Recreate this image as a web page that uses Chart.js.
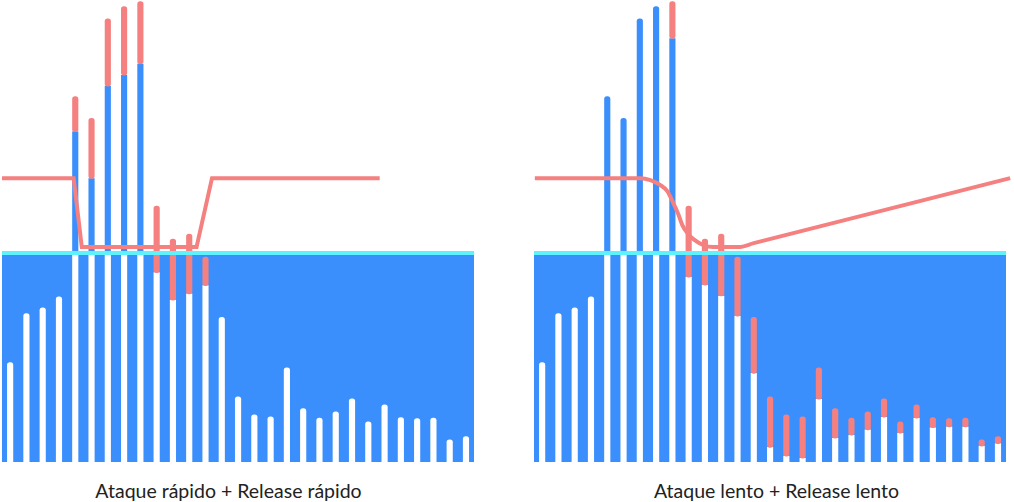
<!DOCTYPE html>
<html><head><meta charset="utf-8">
<script src="https://cdn.jsdelivr.net/npm/chart.js@4"></script>
<style>
html,body{margin:0;padding:0;background:#fff;}
#wrap{position:relative;width:1014px;height:502px;overflow:hidden;background:#fff;}
.panel{position:absolute;top:0;width:477px;height:462px;}
.label{position:absolute;top:479px;font-family:Lato,"Noto Sans",sans-serif;font-size:19.5px;line-height:23.4px;color:#222;white-space:nowrap;transform:translateX(-50%);}
</style></head>
<body><div id="wrap">
<div class="panel" style="left:2px"><canvas id="c1" width="477" height="462"></canvas></div>
<div class="panel" style="left:534px"><canvas id="c2" width="477" height="462"></canvas></div>
<div class="label" style="left:228.5px">Ataque rápido + Release rápido</div>
<div class="label" style="left:776.5px">Ataque lento + Release lento</div>
</div>
<script>
// ---- data ----
const steps = [0,1,2,3,4,5,6,7,8,9,10,11,12,13,14,15,16,17,18,19,20,21,22,23,24,25,26,27,28];
const threshold = 50;
const inputLevel = [23.8,35.5,36.9,39.5,87.4,82.2,106.0,108.9,110.1,61.2,53.3,54.5,49.0,34.6,15.6,11.3,10.8,22.5,12.8,10.5,12.0,15.1,9.6,13.7,10.6,10.4,10.5,5.3,6.1];
const fastOutput = [23.8,35.5,36.9,39.5,79.0,67.8,89.9,92.5,95.2,45.3,38.7,40.2,42.2,34.6,15.6,11.3,10.8,22.5,12.8,10.5,12.0,15.1,9.6,13.7,10.6,10.4,10.5,5.3,6.1];
const slowOutput = [23.8,35.5,36.9,39.5,87.4,82.2,106.0,108.9,101.3,44.2,42.3,39.7,34.9,21.2,3.5,1.4,0.9,15.0,5.7,6.4,7.7,10.7,6.9,10.5,8.2,8.4,8.4,3.8,4.4];
const fastGainTime = [-0.5,3.9,4.4,11.45,12.4,22.7];
const fastGainDb   = [0,0,-12,-12,0,0];
const slowGainTime = [-0.45,6.03,6.65,7.26,7.69,8.06,8.36,8.61,8.92,9.29,9.9,10.5,12.05,13.0,28.75];
const slowGainDb   = [0,0,-0.35,-1.22,-2.26,-4.35,-6.26,-8.17,-9.57,-10.61,-11.65,-12,-12,-11.32,0];

// ---- styles ----
const BLUE = '#3b8ffc', RED = '#f58080', CYAN = '#5ef2fc', WHITE = '#ffffff';
const BAR_W = 5.5, R = 3;

function buildChart(id, output, gT, gD, smooth) {
  const white = [], blue = [], red = [];
  steps.forEach((s, i) => {
    const inp = inputLevel[i], out = output[i];
    white.push({x: s, y: [0, Math.min(out, threshold)]});
    if (out > threshold) blue.push({x: s, y: [threshold, out]});
    if (inp > out) red.push({x: s, y: [out, inp]});
  });
  const idx = ctx => steps.indexOf(ctx.raw.x);
  const gain = gT.map((t, i) => ({x: t, y: gD[i]}));
  new Chart(document.getElementById(id), {
    type: 'bar',
    data: {
      datasets: [
        {type: 'line', data: [{x: -0.5, y: threshold}, {x: 28.5, y: threshold}], fill: 'start',
         backgroundColor: BLUE, borderWidth: 0, pointRadius: 0, order: 10},
        {data: white, backgroundColor: WHITE, grouped: false, barThickness: BAR_W, order: 9,
         borderRadius: ctx => { const i = idx(ctx); return (output[i] > threshold || inputLevel[i] > output[i]) ? 0 : R; }},
        {data: blue, backgroundColor: BLUE, grouped: false, barThickness: BAR_W, order: 8,
         borderRadius: ctx => { const i = idx(ctx); return inputLevel[i] > output[i] ? 0 : R; }},
        {data: red, backgroundColor: RED, grouped: false, barThickness: BAR_W, order: 7,
         borderRadius: R, borderSkipped: false},
        {type: 'line', data: [{x: -0.5, y: threshold}, {x: 28.5, y: threshold}],
         borderColor: CYAN, borderWidth: 4, pointRadius: 0, fill: false, order: 6},
        {type: 'line', data: gain, yAxisID: 'g', borderColor: RED, borderWidth: 4, pointRadius: 0,
         fill: false, order: 5, tension: 0, cubicInterpolationMode: smooth ? 'monotone' : 'default'}
      ]
    },
    options: {
      responsive: false, animation: false, events: [],
      layout: {padding: 0},
      plugins: {legend: {display: false}, tooltip: {enabled: false}},
      scales: {
        x: {type: 'linear', min: -0.5, max: 28.8, offset: false, display: false},
        y: {type: 'linear', min: 0, max: 110.5, display: false},
        g: {type: 'linear', min: -49.4, max: 31, display: false}
      }
    }
  });
}
buildChart('c1', fastOutput, fastGainTime, fastGainDb, false);
buildChart('c2', slowOutput, slowGainTime, slowGainDb, true);
</script>
</body></html>
